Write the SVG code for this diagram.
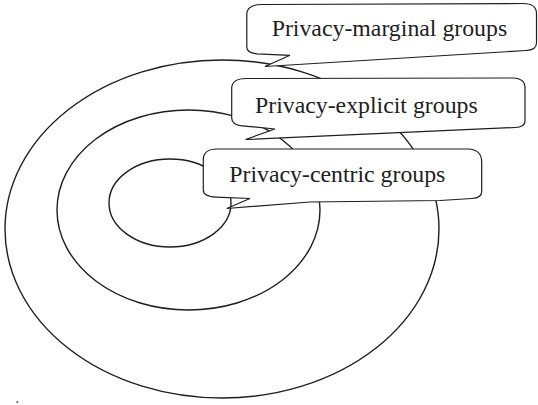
<svg xmlns="http://www.w3.org/2000/svg" width="538" height="405" viewBox="0 0 538 405">
  <style>
    .ring { fill: none; stroke: #1e1e1e; stroke-width: 1.4; }
    .callout { fill: #ffffff; stroke: #1e1e1e; stroke-width: 1.2; stroke-linejoin: miter; }
    .label { font-family: "Liberation Serif", "Times New Roman", serif; font-size: 23.8px; fill: #1e1e1e; }
  </style>
  <rect width="538" height="405" fill="#ffffff"/>

  <!-- concentric rings -->
  <g id="rings">
    <ellipse id="ring-outer" class="ring" cx="222" cy="229" rx="217" ry="169"/>
    <ellipse id="ring-middle" class="ring" cx="188.5" cy="210" rx="131.5" ry="100"/>
    <ellipse id="ring-inner" class="ring" cx="170" cy="203" rx="61" ry="44"/>
  </g>

  <!-- callout labels -->
  <g id="callout-centric">
    <path class="callout" d="M203.3,190 L203.3,159 Q203.8,149 217,149 L468,149 Q481.7,149.5 481.7,162 L481.7,191.5 Q481.7,198 472,198.5 L440,200.5 L310,202 L226.7,208.5 L250,198.5 L216,197.2 Q203.3,196.5 203.3,190 Z"/>
    <text class="label" x="229.3" y="181.7">Privacy-centric groups</text>
  </g>

  <g id="callout-explicit">
    <path class="callout" d="M231.7,118 L231.7,88 Q232.2,78.5 246,78.5 L513,78 Q525,78.3 525,88 L525,121 Q525,127.2 515,127.5 L245.5,139.5 L275,129 L242,125.8 Q231.7,124.8 231.7,118 Z"/>
    <text class="label" x="255" y="113.3">Privacy-explicit groups</text>
  </g>

  <g id="callout-marginal">
    <path class="callout" d="M246.8,47 L246.8,14 Q247.2,4.5 262,4.5 L523,3.5 Q536.5,3.5 536.5,13.5 L536.5,43 Q536.5,50 526,50.5 L265,66.5 L290,55.3 L257,53.8 Q246.8,53 246.8,47 Z"/>
    <text class="label" x="271.7" y="35.5">Privacy-marginal groups</text>
  </g>

  <text x="15.5" y="403" style="font-family: 'Liberation Serif', serif; font-size: 14px; fill: #1e1e1e;">.</text>
</svg>
